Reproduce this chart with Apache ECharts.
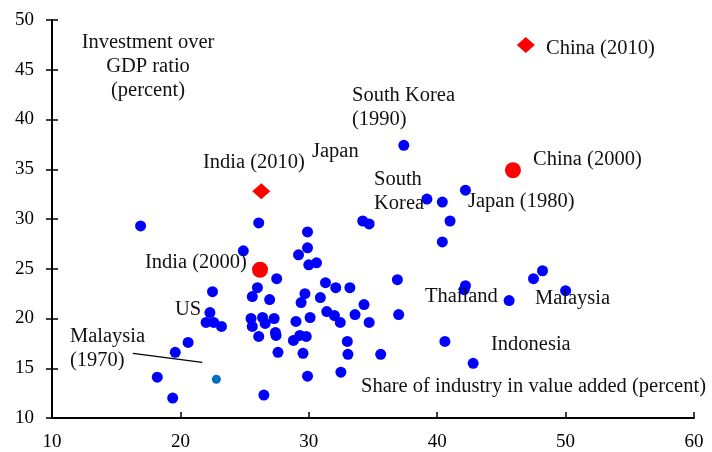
<!DOCTYPE html>
<html>
<head>
<meta charset="utf-8">
<script src="https://cdn.jsdelivr.net/npm/echarts@6/dist/echarts.min.js"></script>
<style>
  html, body { margin: 0; padding: 0; background: #fff; }
  #main { width: 712px; height: 452px; }
</style>
</head>
<body>
<div id="main"></div>
<script>
// industry share (x), investment/GDP (y)
let bluePoints = [
    [16.9, 29.3], [24.9, 26.8], [22.5, 22.7], [22.3, 20.6], [22.0, 19.6],
    [22.6, 19.6], [23.2, 19.2], [20.6, 17.6], [19.6, 16.6], [18.2, 14.1],
    [19.4, 12.0], [37.4, 37.4], [26.1, 29.6], [34.2, 29.8], [34.7, 29.5],
    [39.2, 32.0], [40.4, 31.7], [42.2, 32.9], [41.0, 29.8], [40.4, 27.7],
    [29.9, 28.7], [29.9, 27.1], [29.2, 26.4], [30.0, 25.4], [30.6, 25.6],
    [27.5, 24.0], [26.0, 23.1], [25.6, 22.2], [26.95, 21.9], [31.3, 23.6],
    [32.1, 23.1], [33.2, 23.1], [29.7, 22.5], [29.4, 21.6], [30.9, 22.1],
    [36.9, 23.9], [34.3, 21.4], [25.5, 20.0], [25.6, 19.2], [26.4, 20.1],
    [26.6, 19.5], [27.3, 20.0], [27.4, 18.6], [27.45, 18.3], [26.1, 18.2],
    [27.6, 16.6], [29.0, 19.7], [30.1, 20.1], [28.8, 17.8], [29.3, 18.3],
    [29.8, 18.2], [29.55, 16.5], [29.9, 14.2], [26.5, 12.3], [31.4, 20.7],
    [32.0, 20.3], [32.45, 19.6], [33.6, 20.4], [34.7, 19.6], [37.0, 20.4],
    [33.0, 17.7], [33.05, 16.4], [35.6, 16.4], [32.5, 14.6], [40.6, 17.7],
    [42.2, 23.3], [42.1, 22.9], [42.8, 15.5], [48.2, 24.8], [47.5, 24.0],
    [50.0, 22.8], [45.6, 21.8]
];
let redCircles = [[45.9, 34.9], [26.2, 24.9]];   // China (2000), India (2000)
let redDiamonds = [[46.9, 47.5], [26.3, 32.8]];  // China (2010), India (2010)
let malaysia1970 = [[22.8, 13.9]];
let malaysiaLeader = [[16.3, 16.5], [21.7, 15.6]];

let xTicks = { min: 10, max: 60, interval: 10 };
let yTicks = { min: 10, max: 50, interval: 5 };

let font = "Liberation Serif";
let lineH = 24;

// y = centre of first line
let notes = [
    { text: "Investment over\nGDP ratio\n(percent)", x: 148, y: 43, align: "center" },
    { text: "South Korea\n(1990)", x: 352, y: 96, align: "left" },
    { text: "Japan", x: 312, y: 152, align: "left" },
    { text: "India (2010)", x: 203, y: 163, align: "left" },
    { text: "South\nKorea", x: 374, y: 180, align: "left" },
    { text: "Japan (1980)", x: 468, y: 202, align: "left" },
    { text: "China (2010)", x: 546, y: 49, align: "left" },
    { text: "China (2000)", x: 533, y: 160, align: "left" },
    { text: "India (2000)", x: 145, y: 263, align: "left" },
    { text: "US", x: 175, y: 310, align: "left" },
    { text: "Malaysia\n(1970)", x: 70, y: 337, align: "left" },
    { text: "Thailand", x: 425, y: 297, align: "left" },
    { text: "Malaysia", x: 535, y: 299, align: "left" },
    { text: "Indonesia", x: 491, y: 345, align: "left" },
    { text: "Share of industry in value added (percent)", x: 361, y: 387, align: "left" }
];

let chart = echarts.init(document.getElementById("main"));

let option = {
    animation: false,
    backgroundColor: "#fff",
    grid: { left: 52, right: 18, top: 20, bottom: 32 },
    xAxis: {
        type: "value",
        min: xTicks.min,
        max: xTicks.max,
        interval: xTicks.interval,
        splitLine: { show: false },
        axisLine: { lineStyle: { color: "#000", width: 2 } },
        axisTick: { inside: true, length: 6, lineStyle: { color: "#000", width: 1.5 } },
        axisLabel: { color: "#000", fontFamily: font, fontSize: 19, margin: 15 }
    },
    yAxis: [
        {
            type: "value",
            min: yTicks.min,
            max: yTicks.max,
            interval: yTicks.interval,
            splitLine: { show: false },
            axisLine: { lineStyle: { color: "#000", width: 2 } },
            axisTick: { length: 6, lineStyle: { color: "#000", width: 1.5 } },
            axisLabel: { color: "#000", fontFamily: font, fontSize: 19, margin: 18 }
        },
        {
            type: "value",
            position: "left",
            min: yTicks.min,
            max: yTicks.max,
            interval: yTicks.interval,
            splitLine: { show: false },
            axisLine: { show: false },
            axisTick: { inside: true, length: 6, lineStyle: { color: "#000", width: 1.5 } },
            axisLabel: { show: false }
        }
    ],
    series: [
        {
            type: "line",
            data: malaysiaLeader,
            symbol: "none",
            lineStyle: { color: "#000", width: 1.2 },
            z: 1
        },
        {
            type: "scatter",
            data: bluePoints,
            symbolSize: 11,
            itemStyle: { color: "#0000ff", opacity: 1 }
        },
        {
            type: "scatter",
            data: malaysia1970,
            symbolSize: 9,
            itemStyle: { color: "#0070c0", opacity: 1 }
        },
        {
            type: "scatter",
            data: redCircles,
            symbolSize: 16,
            itemStyle: { color: "#ff0000", opacity: 1 }
        },
        {
            type: "scatter",
            data: redDiamonds,
            symbol: "diamond",
            symbolSize: [18, 16],
            itemStyle: { color: "#ff0000", opacity: 1 }
        }
    ],
    graphic: notes.map((n) => ({
        type: "text",
        z: 10,
        style: {
            text: n.text,
            x: n.x,
            y: n.y - lineH / 2,
            align: n.align,
            verticalAlign: "top",
            font: "20.5px " + font,
            lineHeight: lineH,
            fill: "#111"
        }
    }))
};

chart.setOption(option);
</script>
</body>
</html>
